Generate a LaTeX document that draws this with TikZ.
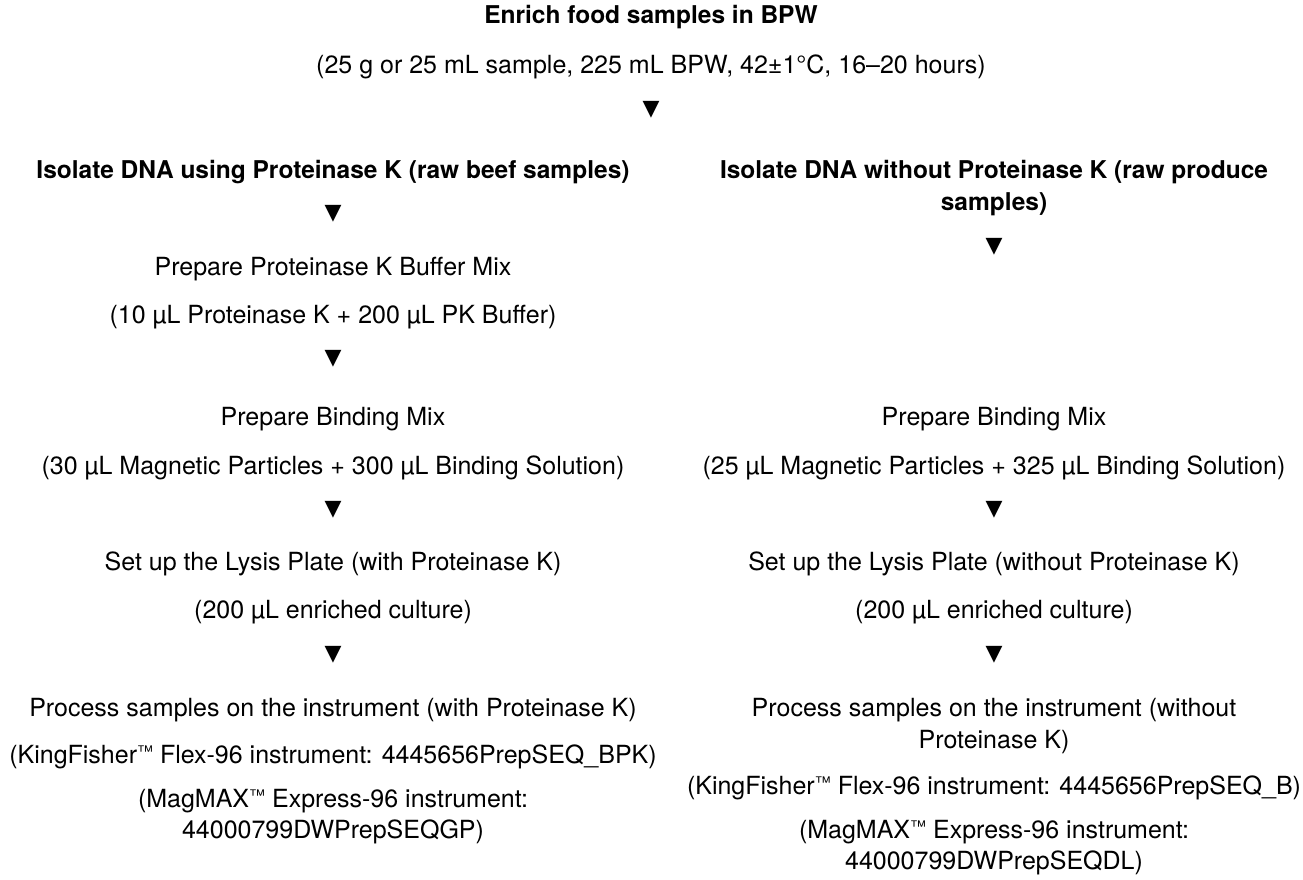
\documentclass[tikz,border=0pt]{standalone}
\usepackage{fontspec}
\setmainfont{TeX Gyre Heros}
\newfontfamily\symfont{DejaVu Sans}
\newcommand\mytm{\raisebox{6pt}{\fontsize{16}{16}\selectfont ™}}
\begin{document}
\begin{tikzpicture}[x=1pt,y=-1pt,
  txt/.style={inner sep=0pt, anchor=base, font=\fontsize{25}{31}\selectfont},
  head/.style={inner sep=0pt, anchor=base, font=\fontsize{24.5}{31}\selectfont\bfseries},
  tri/.style={inner sep=0pt, anchor=center, font=\symfont\fontsize{22}{22}\selectfont}]
\useasboundingbox (0,0) rectangle (1303,880);
\def\L{333}\def\R{994}\def\C{651}
% top
\node[head] (title) at (\C,24) {Enrich food samples in BPW};
\node[txt] (sub) at (\C,74) {(25 g or 25 mL sample, 225 mL BPW, 42±1°C, 16–20 hours)};
\node[tri] (t0) at (\C,110) {▼};
% left column
\node[head] (lh) at (\L,178) {Isolate DNA using Proteinase K (raw beef samples)};
\node[tri] (lt1) at (\L,214) {▼};
\node[txt] (lpk1) at (\L,275) {Prepare Proteinase K Buffer Mix};
\node[txt] (lpk2) at (\L,323) {(10 µL Proteinase K + 200 µL PK Buffer)};
\node[tri] (lt2) at (\L,359) {▼};
\node[txt] (lb1) at (\L,425) {Prepare Binding Mix};
\node[txt] (lb2) at (\L,474) {(30 µL Magnetic Particles + 300 µL Binding Solution)};
\node[tri] (lt3) at (\L,510) {▼};
\node[txt] (ls1) at (\L,570) {Set up the Lysis Plate (with Proteinase K)};
\node[txt] (ls2) at (\L,618) {(200 µL enriched culture)};
\node[tri] (lt4) at (\L,655) {▼};
\node[txt] (lp1) at (\L,716) {Process samples on the instrument (with Proteinase K)};
\node[txt] (lp2) at (\L,763) {(KingFisher\mytm\ Flex-96 instrument: 4445656PrepSEQ\_BPK)};
\node[txt] (lp3) at (\L,807) {(MagMAX\mytm\ Express-96 instrument:};
\node[txt] (lp4) at (\L,838) {44000799DWPrepSEQGP)};
% right column
\node[head] (rh1) at (\R,178) {Isolate DNA without Proteinase K (raw produce};
\node[head] (rh2) at (\R,210) {samples)};
\node[tri] (rt1) at (\R,247) {▼};
\node[txt] (rb1) at (\R,425) {Prepare Binding Mix};
\node[txt] (rb2) at (\R,474) {(25 µL Magnetic Particles + 325 µL Binding Solution)};
\node[tri] (rt3) at (\R,510) {▼};
\node[txt] (rs1) at (\R,570) {Set up the Lysis Plate (without Proteinase K)};
\node[txt] (rs2) at (\R,618) {(200 µL enriched culture)};
\node[tri] (rt4) at (\R,655) {▼};
\node[txt] (rp1) at (\R,716) {Process samples on the instrument (without};
\node[txt] (rp1b) at (\R,748) {Proteinase K)};
\node[txt] (rp2) at (\R,794) {(KingFisher\mytm\ Flex-96 instrument: 4445656PrepSEQ\_B)};
\node[txt] (rp3) at (\R,838) {(MagMAX\mytm\ Express-96 instrument:};
\node[txt] (rp4) at (\R,869) {44000799DWPrepSEQDL)};
\end{tikzpicture}
\end{document}
